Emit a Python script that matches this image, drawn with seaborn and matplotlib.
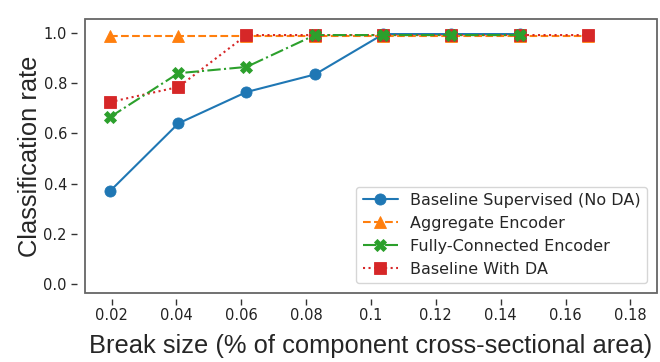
import matplotlib
matplotlib.use("Agg")
import matplotlib.pyplot as plt
import seaborn as sns
import pandas as pd
from matplotlib.patches import Rectangle

# ---- data ----
break_size = [0.0195, 0.0406, 0.0616, 0.0827, 0.1038, 0.1248, 0.1459, 0.1669]
baseline_no_da = [0.37, 0.64, 0.765, 0.835, 0.996, 0.996, 0.996]
aggregate_enc = [0.99, 0.99, 0.99, 0.99, 0.99, 0.99, 0.99, 0.99]
fully_conn_enc = [0.665, 0.84, 0.865, 0.992, 0.992, 0.992, 0.992]
baseline_da = [0.725, 0.785, 0.992, 0.992, 0.992, 0.992, 0.992, 0.992]
x_ticks = [0.02, 0.04, 0.06, 0.08, 0.1, 0.12, 0.14, 0.16, 0.18]
x_tick_labels = ["0.02", "0.04", "0.06", "0.08", "0.1", "0.12", "0.14", "0.16", "0.18"]
y_ticks = [0.0, 0.2, 0.4, 0.6, 0.8, 1.0]
y_tick_labels = ["0.0", "0.2", "0.4", "0.6", "0.8", "1.0"]
names = ["Baseline Supervised (No DA)", "Aggregate Encoder",
         "Fully-Connected Encoder", "Baseline With DA"]

sns.set_style("white")
plt.rcParams['font.family'] = ['DejaVu Sans']

fig = plt.figure(figsize=(6.6, 3.62), dpi=100)
ax = fig.add_axes([0.1288, 0.1906, 0.8667, 0.7569])

pal = sns.color_palette("tab10")
series = [
    (names[0], baseline_no_da, pal[0], "-", "o", 1),
    (names[1], aggregate_enc, pal[1], "--", "^", 2),
    (names[3], baseline_da, pal[3], ":", "s", 3),
    (names[2], fully_conn_enc, pal[2], "-.", "X", 4),
]
for name, vals, col, ls, mk, z in series:
    df = pd.DataFrame({"x": break_size[:len(vals)], "y": vals})
    sns.lineplot(data=df, x="x", y="y", ax=ax, color=col, linestyle=ls,
                 marker=mk, markersize=8, markeredgewidth=0.6,
                 markeredgecolor=col, linewidth=1.5, zorder=z, label=name)

h, l = ax.get_legend_handles_labels()
order = [l.index(n) for n in names]
ax.legend([h[i] for i in order], [l[i] for i in order], loc="lower right",
          fontsize=11.5, frameon=True, borderaxespad=0.6,
          handlelength=2.2, labelspacing=0.5)

ax.set_xlim(0.0118, 0.1882)
ax.set_ylim(-0.036, 1.056)
ax.set_xticks(x_ticks)
ax.set_xticklabels(x_tick_labels)
ax.set_yticks(y_ticks)
ax.set_yticklabels(y_tick_labels)

for s in ax.spines.values():
    s.set_visible(False)
ax.spines['bottom'].set_position(('outward', 4))
ax.spines['left'].set_position(('outward', 6))
ax.add_patch(Rectangle((0, 0), 1, 1, transform=ax.transAxes, fill=False,
                       edgecolor="#666666", linewidth=1.3, zorder=10,
                       clip_on=False))

ax.tick_params(axis="both", which="major", direction="out", length=4,
               width=1, color="#333333", labelsize=10.5, labelcolor="#222222",
               bottom=True, left=True, pad=3)

ax.set_xlabel("Break size (% of component cross-sectional area)",
              family="Liberation Sans", fontsize=18.4, labelpad=8)
ax.set_ylabel("Classification rate", family="Liberation Sans",
              fontsize=18.4, labelpad=1)

fig.savefig("out.png", dpi=100)
